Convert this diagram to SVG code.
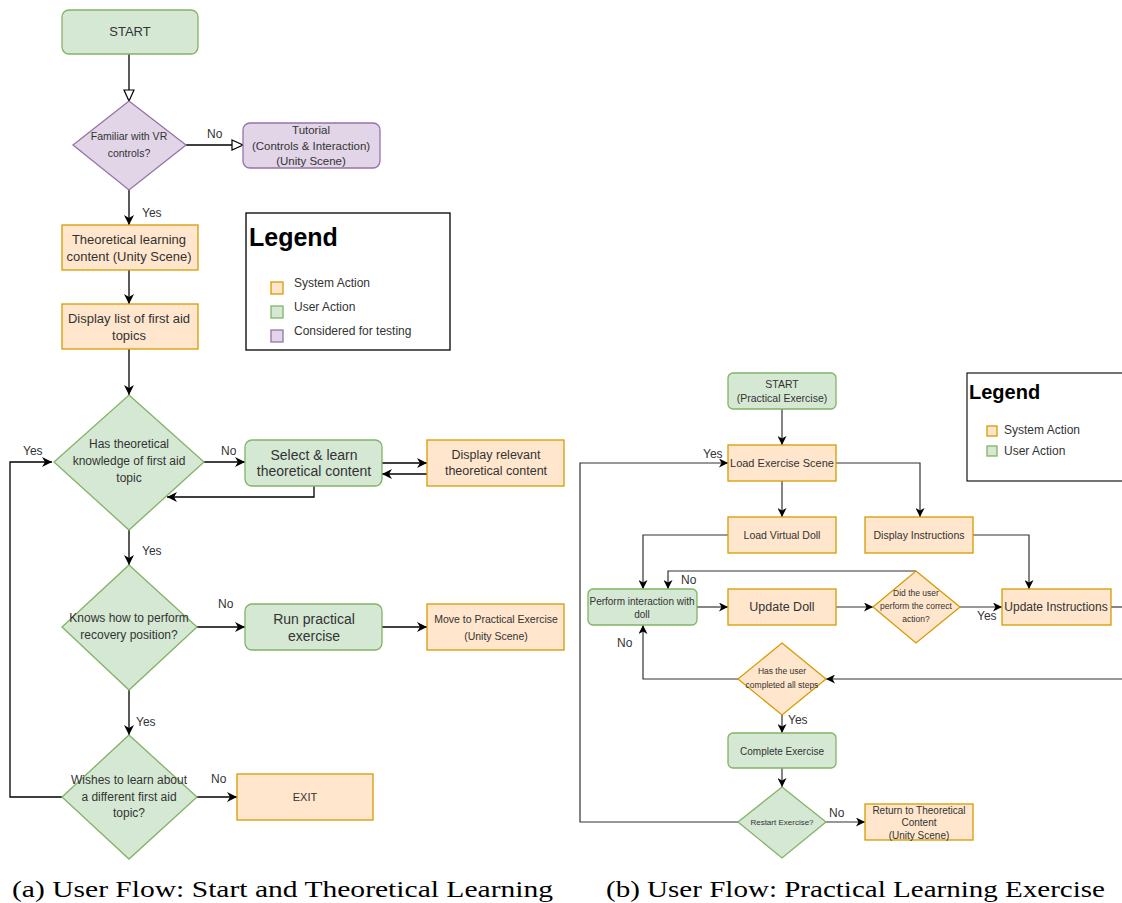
<svg xmlns="http://www.w3.org/2000/svg" width="1122" height="903" viewBox="0 0 1122 903">
  <style>
    .g { fill: #d5e8d4; stroke: #82b366; stroke-width: 1.3; }
    .o { fill: #ffe6cc; stroke: #d79b00; stroke-width: 1.3; }
    .p { fill: #e1d5e7; stroke: #9673a6; stroke-width: 1.3; }
    .t { font-family: "Liberation Sans", Arial, sans-serif; fill: #333333; text-anchor: middle; dominant-baseline: central; }
    .lbl { font-family: "Liberation Sans", Arial, sans-serif; fill: #333333; font-size: 12px; dominant-baseline: central; }
    .c { fill: none; stroke: #000000; stroke-width: 1.3; }
    .c2 { fill: none; stroke: #333333; stroke-width: 1.2; }
    .cap { font-family: "Liberation Serif", "DejaVu Serif", serif; fill: #000000; font-size: 24px; }
  </style>
  <defs>
    <marker id="arr" markerWidth="12" markerHeight="10" refX="10" refY="5" orient="auto" markerUnits="userSpaceOnUse">
      <path d="M0,0 L10,5 L0,10 L3,5 z" fill="#000000"/>
    </marker>
    <marker id="arrs" markerWidth="10" markerHeight="9" refX="9" refY="4.5" orient="auto" markerUnits="userSpaceOnUse">
      <path d="M0,0 L9,4.5 L0,9 L2.5,4.5 z" fill="#000000"/>
    </marker>
    <marker id="open" markerWidth="14" markerHeight="12" refX="12" refY="6" orient="auto" markerUnits="userSpaceOnUse">
      <path d="M1,1 L12,6 L1,11 z" fill="#ffffff" stroke="#000000" stroke-width="1.2"/>
    </marker>
  </defs>

  <!-- ===== Flow (a): start and theoretical learning ===== -->
  <g id="a-connectors">
    <path class="c" d="M129,54 V101" marker-end="url(#open)"/>
    <path class="c" d="M186,145 H243" marker-end="url(#open)"/>
    <path class="c" d="M129,190 V225" marker-end="url(#arr)"/>
    <path class="c" d="M129,270 V304" marker-end="url(#arr)"/>
    <path class="c" d="M129,349 V395" marker-end="url(#arr)"/>
    <path class="c" d="M204,462 H245" marker-end="url(#arr)"/>
    <path class="c" d="M382,463 H427" marker-end="url(#arr)"/>
    <path class="c" d="M427,474 H382" marker-end="url(#arr)"/>
    <path class="c" d="M314,486 V497 H167" marker-end="url(#arr)"/>
    <path class="c" d="M129,530 V565" marker-end="url(#arr)"/>
    <path class="c" d="M197,627 H245" marker-end="url(#arr)"/>
    <path class="c" d="M382,627 H427" marker-end="url(#arr)"/>
    <path class="c" d="M129,690 V735" marker-end="url(#arr)"/>
    <path class="c" d="M197,797 H237" marker-end="url(#arr)"/>
    <path class="c" d="M62,797 H10 V462 H52" marker-end="url(#arr)"/>
    <text class="lbl" x="207" y="134">No</text>
    <text class="lbl" x="142" y="213">Yes</text>
    <text class="lbl" x="221" y="451">No</text>
    <text class="lbl" x="23" y="451">Yes</text>
    <text class="lbl" x="142" y="551">Yes</text>
    <text class="lbl" x="218" y="604">No</text>
    <text class="lbl" x="136" y="722">Yes</text>
    <text class="lbl" x="211" y="779">No</text>
  </g>

  <g id="a-start">
    <rect class="g" x="62" y="10" width="136" height="44" rx="7"/>
    <text class="t" x="130" y="31" font-size="13">START</text>
  </g>
  <g id="a-familiar">
    <polygon class="p" points="129,101 186,145 129,190 73,145"/>
    <text class="t" x="129" y="136" font-size="10.5">Familiar with VR</text>
    <text class="t" x="129" y="153" font-size="10.5">controls?</text>
  </g>
  <g id="a-tutorial">
    <rect class="p" x="243" y="123" width="137" height="45" rx="7"/>
    <text class="t" x="311" y="130" font-size="11.5">Tutorial</text>
    <text class="t" x="311" y="146" font-size="11.5">(Controls &amp; Interaction)</text>
    <text class="t" x="311" y="161" font-size="11.5">(Unity Scene)</text>
  </g>
  <g id="a-theory">
    <rect class="o" x="62" y="225" width="136" height="45"/>
    <text class="t" x="129" y="239" font-size="13">Theoretical learning</text>
    <text class="t" x="129" y="256" font-size="13">content (Unity Scene)</text>
  </g>
  <g id="a-list">
    <rect class="o" x="62" y="304" width="136" height="45"/>
    <text class="t" x="129" y="318" font-size="13">Display list of first aid</text>
    <text class="t" x="129" y="335" font-size="13">topics</text>
  </g>
  <g id="a-has-knowledge">
    <polygon class="g" points="129,395 204,462 129,530 54,462"/>
    <text class="t" x="129" y="444" font-size="12">Has theoretical</text>
    <text class="t" x="129" y="461" font-size="12">knowledge of first aid</text>
    <text class="t" x="129" y="478" font-size="12">topic</text>
  </g>
  <g id="a-select">
    <rect class="g" x="245" y="440" width="137" height="46" rx="7"/>
    <text class="t" x="314" y="455" font-size="14">Select &amp; learn</text>
    <text class="t" x="314" y="471" font-size="14">theoretical content</text>
  </g>
  <g id="a-display-relevant">
    <rect class="o" x="427" y="440" width="137" height="46"/>
    <text class="t" x="496" y="455" font-size="12.5">Display relevant</text>
    <text class="t" x="496" y="471" font-size="12.5">theoretical content</text>
  </g>
  <g id="a-recovery">
    <polygon class="g" points="129,565 197,627 129,690 62,627"/>
    <text class="t" x="129" y="618" font-size="12">Knows how to perform</text>
    <text class="t" x="129" y="635" font-size="12">recovery position?</text>
  </g>
  <g id="a-run">
    <rect class="g" x="245" y="604" width="137" height="46" rx="7"/>
    <text class="t" x="314" y="619" font-size="14">Run practical</text>
    <text class="t" x="314" y="636" font-size="14">exercise</text>
  </g>
  <g id="a-move">
    <rect class="o" x="427" y="604" width="137" height="46"/>
    <text class="t" x="496" y="619" font-size="10.5">Move to Practical Exercise</text>
    <text class="t" x="496" y="636" font-size="10.5">(Unity Scene)</text>
  </g>
  <g id="a-wishes">
    <polygon class="g" points="129,735 197,797 129,859 62,797"/>
    <text class="t" x="129" y="780" font-size="12">Wishes to learn about</text>
    <text class="t" x="129" y="797" font-size="12">a different first aid</text>
    <text class="t" x="129" y="813" font-size="12">topic?</text>
  </g>
  <g id="a-exit">
    <rect class="o" x="237" y="774" width="136" height="46"/>
    <text class="t" x="305" y="797" font-size="11">EXIT</text>
  </g>
  <g id="a-legend">
    <rect x="246" y="213" width="204" height="137" fill="#ffffff" stroke="#000000" stroke-width="1.3"/>
    <text x="249" y="246" font-family="Liberation Sans, Arial, sans-serif" font-size="25" font-weight="bold" fill="#000000">Legend</text>
    <rect class="o" x="271" y="282" width="12" height="12"/>
    <rect class="g" x="271" y="306" width="12" height="12"/>
    <rect class="p" x="271" y="330" width="12" height="12"/>
    <text class="lbl" x="294" y="283" font-size="13">System Action</text>
    <text class="lbl" x="294" y="307" font-size="13">User Action</text>
    <text class="lbl" x="294" y="331" font-size="13">Considered for testing</text>
  </g>

  <!-- ===== Flow (b): practical learning exercise ===== -->
  <g id="b-connectors">
    <path class="c2" d="M782,409 V445" marker-end="url(#arrs)"/>
    <path class="c2" d="M738,822 H580 V463 H728" marker-end="url(#arrs)"/>
    <path class="c2" d="M836,463 H920 V517" marker-end="url(#arrs)"/>
    <path class="c2" d="M782,481 V517" marker-end="url(#arrs)"/>
    <path class="c2" d="M728,535 H643 V589" marker-end="url(#arrs)"/>
    <path class="c2" d="M973,535 H1029 V589" marker-end="url(#arrs)"/>
    <path class="c2" d="M697,607 H728" marker-end="url(#arrs)"/>
    <path class="c2" d="M836,607 H873" marker-end="url(#arrs)"/>
    <path class="c2" d="M916,571 H668 V589" marker-end="url(#arrs)"/>
    <path class="c2" d="M960,607 H1002" marker-end="url(#arrs)"/>
    <path class="c2" d="M1111,607 H1126"/>
    <path class="c2" d="M1126,679 H826" marker-end="url(#arrs)"/>
    <path class="c2" d="M738,679 H643 V625" marker-end="url(#arrs)"/>
    <path class="c2" d="M782,715 V733" marker-end="url(#arrs)"/>
    <path class="c2" d="M782,768 V787" marker-end="url(#arrs)"/>
    <path class="c2" d="M826,822 H865" marker-end="url(#arrs)"/>
    <text class="lbl" x="703" y="454" font-size="9">Yes</text>
    <text class="lbl" x="681" y="580" font-size="10">No</text>
    <text class="lbl" x="977" y="616" font-size="10">Yes</text>
    <text class="lbl" x="617" y="643" font-size="10">No</text>
    <text class="lbl" x="788" y="720" font-size="10">Yes</text>
    <text class="lbl" x="829" y="813" font-size="10">No</text>
  </g>

  <g id="b-start">
    <rect class="g" x="728" y="373" width="108" height="36" rx="5"/>
    <text class="t" x="782" y="384" font-size="10.5">START</text>
    <text class="t" x="782" y="398" font-size="10.5">(Practical Exercise)</text>
  </g>
  <g id="b-load-scene">
    <rect class="o" x="728" y="445" width="108" height="36"/>
    <text class="t" x="782" y="463" font-size="11">Load Exercise Scene</text>
  </g>
  <g id="b-load-doll">
    <rect class="o" x="728" y="517" width="108" height="36"/>
    <text class="t" x="782" y="535" font-size="10.5">Load Virtual Doll</text>
  </g>
  <g id="b-display-instructions">
    <rect class="o" x="865" y="517" width="108" height="36"/>
    <text class="t" x="919" y="535" font-size="10.5">Display Instructions</text>
  </g>
  <g id="b-perform">
    <rect class="g" x="588" y="589" width="109" height="36" rx="5"/>
    <text class="t" x="642" y="601" font-size="10">Perform interaction with</text>
    <text class="t" x="642" y="614" font-size="10">doll</text>
  </g>
  <g id="b-update-doll">
    <rect class="o" x="728" y="589" width="108" height="36"/>
    <text class="t" x="782" y="607" font-size="12.5">Update Doll</text>
  </g>
  <g id="b-correct">
    <polygon class="o" points="916,571 960,607 916,643 873,607"/>
    <text class="t" x="916" y="593" font-size="8.5">Did the user</text>
    <text class="t" x="916" y="606" font-size="8.5">perform the correct</text>
    <text class="t" x="916" y="619" font-size="8.5">action?</text>
  </g>
  <g id="b-update-instructions">
    <rect class="o" x="1002" y="589" width="109" height="36"/>
    <text class="t" x="1056" y="607" font-size="12">Update Instructions</text>
  </g>
  <g id="b-all-steps">
    <polygon class="o" points="782,643 826,679 782,715 738,679"/>
    <text class="t" x="782" y="671" font-size="8.5">Has the user</text>
    <text class="t" x="782" y="685" font-size="8.5">completed all steps</text>
  </g>
  <g id="b-complete">
    <rect class="g" x="728" y="733" width="108" height="35" rx="5"/>
    <text class="t" x="782" y="751" font-size="10">Complete Exercise</text>
  </g>
  <g id="b-restart">
    <polygon class="g" points="782,787 826,822 782,858 738,822"/>
    <text class="t" x="782" y="822" font-size="8">Restart Exercise?</text>
  </g>
  <g id="b-return">
    <rect class="o" x="865" y="804" width="108" height="36"/>
    <text class="t" x="919" y="810" font-size="10">Return to Theoretical</text>
    <text class="t" x="919" y="822" font-size="10">Content</text>
    <text class="t" x="919" y="835" font-size="10">(Unity Scene)</text>
  </g>
  <g id="b-legend">
    <rect x="967" y="373" width="160" height="108" fill="#ffffff" stroke="#000000" stroke-width="1.1"/>
    <text x="969" y="399" font-family="Liberation Sans, Arial, sans-serif" font-size="20" font-weight="bold" fill="#000000">Legend</text>
    <rect class="o" x="987" y="426" width="10" height="10" stroke-width="1"/>
    <rect class="g" x="987" y="446" width="10" height="10" stroke-width="1"/>
    <text class="lbl" x="1004" y="430" font-size="10">System Action</text>
    <text class="lbl" x="1004" y="451" font-size="10">User Action</text>
  </g>

  <!-- sub-figure captions -->
  <text class="cap" x="12" y="897" textLength="541" lengthAdjust="spacingAndGlyphs">(a) User Flow: Start and Theoretical Learning</text>
  <text class="cap" x="606" y="897" textLength="499" lengthAdjust="spacingAndGlyphs">(b) User Flow: Practical Learning Exercise</text>
</svg>
